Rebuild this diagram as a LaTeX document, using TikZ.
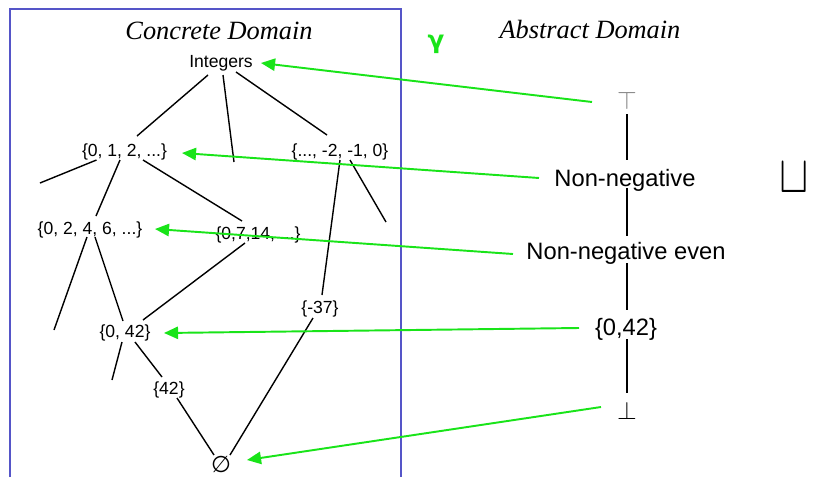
\documentclass[tikz,border=0pt]{standalone}
\usepackage{fontspec}
\setmainfont{Liberation Serif}
\setsansfont{Liberation Sans}
\newfontfamily\symfont{DejaVu Sans}
\usetikzlibrary{arrows.meta}
\definecolor{gammagreen}{RGB}{25,228,25}
\definecolor{boxblue}{RGB}{85,85,200}

\begin{document}
\begin{tikzpicture}[x=0.02cm,y=-0.02cm,
  conc/.style={font=\sffamily\fontsize{10}{12}\selectfont, inner sep=0pt},
  absn/.style={font=\sffamily\fontsize{13.5}{16}\selectfont, inner sep=0pt},
  hasse/.style={line width=0.8pt},
  gmap/.style={gammagreen, line width=1.1pt, -{Triangle[length=8pt,width=7pt]}},
  domtitle/.style={font=\itshape\fontsize{15}{18}\selectfont}]
\useasboundingbox (0,0) rectangle (815,477);

\draw[boxblue, line width=0.7pt] (10,477) -- (10,9) -- (401,9) -- (401,477);
\node[domtitle] (ctitle) at (219,31) {Concrete Domain};
\node[domtitle] (atitle) at (590,29) {Abstract Domain};
\node[text=gammagreen, font=\symfont\bfseries\fontsize{14}{16}\selectfont] (gam) at (436,44) {γ};

\node[conc] (ints) at (221,63) {Integers};
\node[conc] (nat) at (124.5,152) {\{0, 1, 2, ...\}};
\node[conc] (nonpos) at (340,152) {\{..., -2, -1, 0\}};
\node[conc] (evn) at (90,230) {\{0, 2, 4, 6, ...\}};
\node[conc] (mul7) at (258,235) {\{0,7,14, ...\}};
\node[conc] (zf) at (125,333) {\{0, 42\}};
\node[conc] (mthree) at (320,309) {\{-37\}};
\node[conc] (ftwo) at (169,390) {\{42\}};
\node[conc, font=\symfont\fontsize{13}{14}\selectfont] (empty) at (221,464) {∅};

\coordinate (d1) at (234,162);
\coordinate (d2) at (40,183);
\coordinate (d3) at (386,222);
\coordinate (d4) at (54,330);
\coordinate (d5) at (112,380);

\draw[hasse] ([shift={(-13,12)}]ints.center) -- ([shift={(12.5,-16)}]nat.center);
\draw[hasse] ([shift={(2,12)}]ints.center) -- (d1);
\draw[hasse] ([shift={(15,9)}]ints.center) -- ([shift={(-13,-17)}]nonpos.center);
\draw[hasse] ([shift={(-28,8)}]nat.center) -- (d2);
\draw[hasse] ([shift={(-4.5,8)}]nat.center) -- ([shift={(6,-14)}]evn.center);
\draw[hasse] ([shift={(18.5,8)}]nat.center) -- ([shift={(-16,-14)}]mul7.center);
\draw[hasse] ([shift={(0,8)}]nonpos.center) -- ([shift={(2,-14)}]mthree.center);
\draw[hasse] ([shift={(10,8)}]nonpos.center) -- (d3);
\draw[hasse] ([shift={(-3,7)}]evn.center) -- (d4);
\draw[hasse] ([shift={(5,7)}]evn.center) -- ([shift={(-2,-12)}]zf.center);
\draw[hasse] ([shift={(-13,8)}]mul7.center) -- ([shift={(18,-13)}]zf.center);
\draw[hasse] ([shift={(-7,9)}]mthree.center) -- ([shift={(9,-9)}]empty.center);
\draw[hasse] ([shift={(-3,9)}]zf.center) -- (d5);
\draw[hasse] ([shift={(10,9)}]zf.center) -- ([shift={(-7,-13)}]ftwo.center);
\draw[hasse] ([shift={(8,8)}]ftwo.center) -- ([shift={(-7,-9)}]empty.center);

\node[absn, text=gray] (atop) at (627,101) {$\top$};
\node[absn] (anneg) at (625,180) {Non-negative};
\node[absn] (aneven) at (626,253) {Non-negative even};
\node[absn] (azf) at (626,329) {\{0,42\}};
\node[absn] (abot) at (627,411) {$\bot$};
\node (join) at (794,178) {\scalebox{2.5}[3]{$\sqcup$}};

\draw[hasse] ([shift={(0,13)}]atop.center) -- ([shift={(2,-20)}]anneg.center);
\draw[hasse] ([shift={(2,8)}]anneg.center) -- ([shift={(1,-17)}]aneven.center);
\draw[hasse] ([shift={(1,10)}]aneven.center) -- ([shift={(1,-19)}]azf.center);
\draw[hasse] ([shift={(1,10)}]azf.center) -- ([shift={(0,-18)}]abot.center);

\draw[gmap] ([shift={(-35,1)}]atop.center) -- ([shift={(40,0)}]ints.center);
\draw[gmap] ([shift={(-86,-2)}]anneg.center) -- ([shift={(57.5,1)}]nat.center);
\draw[gmap] ([shift={(-113,1)}]aneven.center) -- ([shift={(65,-1)}]evn.center);
\draw[gmap] ([shift={(-47,-1)}]azf.center) -- ([shift={(39,0)}]zf.center);
\draw[gmap] ([shift={(-26,-4)}]abot.center) -- ([shift={(26,-4)}]empty.center);
\end{tikzpicture}
\end{document}
